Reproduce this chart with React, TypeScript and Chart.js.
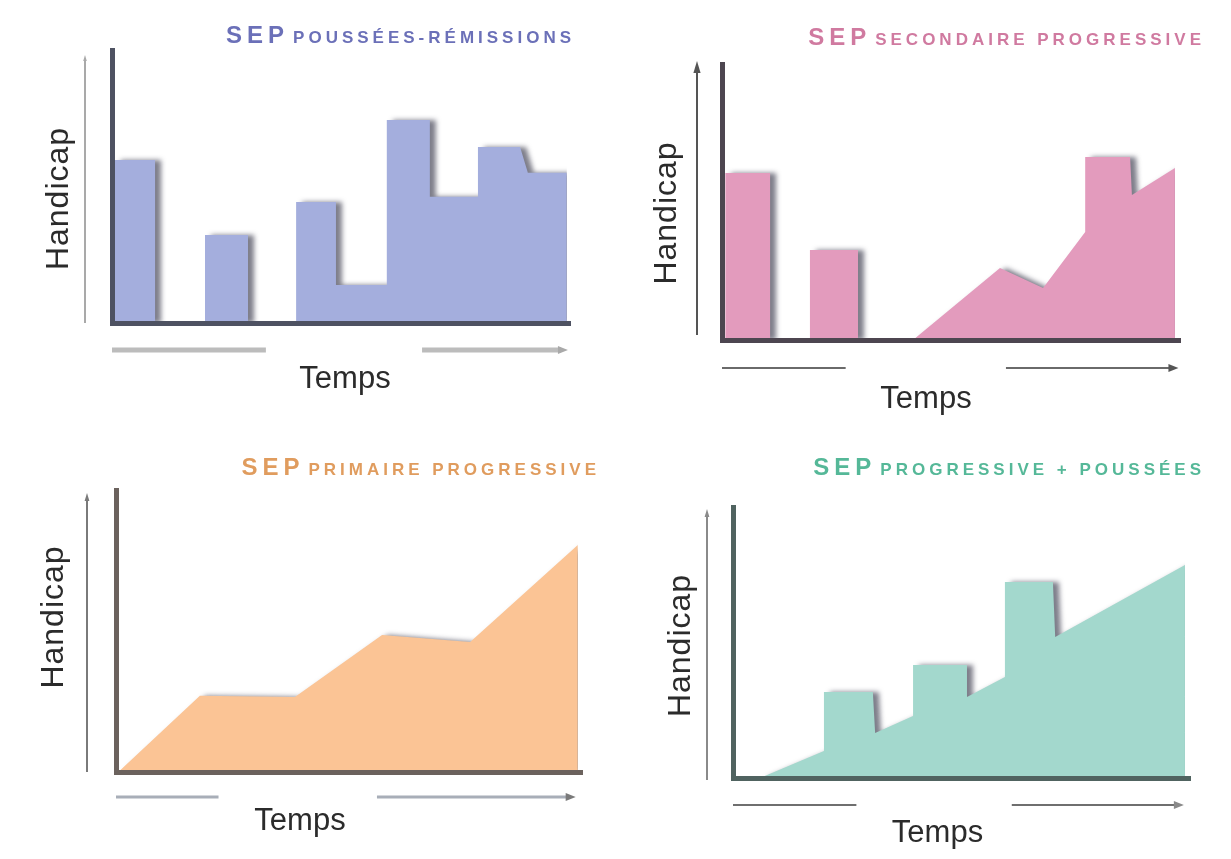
import React, { useEffect, useRef } from "react";
import { Chart, registerables } from "chart.js";

Chart.register(...registerables);

// ---- Data (time 0–100, handicap 0–100) ----
const titlesMain = ["SEP", "SEP", "SEP", "SEP"];
const titlesRest = [
  "POUSSÉES-RÉMISSIONS",
  "SECONDAIRE PROGRESSIVE",
  "PRIMAIRE PROGRESSIVE",
  "PROGRESSIVE + POUSSÉES",
];
const yLabel = "Handicap";
const xLabel = "Temps";

// SEP poussées-rémissions
const rrTime = [0.6, 0.6, 9.4, 9.4, 20.3, 20.3, 29.7, 29.7, 40.2, 40.2, 48.9, 48.9, 60.0, 60.0, 69.4, 69.4, 79.9, 79.9, 89.1, 90.8, 99.3, 99.3];
const rrHandicap = [0, 59.7, 59.7, 0, 0, 32.2, 32.2, 0, 0, 44.3, 44.3, 13.9, 13.9, 74.4, 74.4, 46.2, 46.2, 64.5, 64.5, 55.0, 55.0, 0];

// SEP secondaire progressive
const spTime = [0.7, 0.7, 10.5, 10.5, 19.2, 19.2, 29.7, 29.7, 41.7, 60.7, 70.1, 79.3, 79.3, 89.1, 89.5, 98.9, 98.9];
const spHandicap = [0, 60.5, 60.5, 0, 0, 32.6, 32.6, 0, 0, 26.1, 18.8, 39.1, 66.3, 66.3, 52.5, 62.3, 0];

// SEP primaire progressive
const ppTime = [0.5, 18.0, 38.4, 57.1, 76.0, 99.1, 99.1];
const ppHandicap = [0, 27.0, 26.6, 48.6, 46.1, 80.5, 0];

// SEP progressive + poussées
const prTime = [5.9, 19.9, 19.9, 30.6, 31.1, 39.4, 39.4, 51.2, 51.2, 59.5, 59.5, 70.0, 70.5, 98.9, 98.9];
const prHandicap = [0, 10.0, 31.7, 31.7, 16.6, 22.9, 41.7, 41.7, 29.9, 37.3, 72.3, 72.3, 52.0, 78.6, 0];

type Cfg = {
  left: number; top: number; w: number; h: number;
  pad: { left: number; top: number; right: number; bottom: number };
  xs: number[]; ys: number[];
  title: string; titleRest: string;
  fill: string; axis: string; titleColor: string;
  titleDx: number; titleDy: number;
  hx: number; hy: number; tx: number; ty: number;
  ax: number; aTop: number; aBottom: number; aColor: string; aWidth: number; aHead: number;
  bY: number; bL: [number, number]; bR: [number, number]; bColor: string; bWidth: number;
};

const FONT = '"Liberation Sans", Arial, sans-serif';

const panels: Cfg[] = [
  {
    left: 0, top: 0, w: 615, h: 430,
    pad: { left: 112, top: 50, right: 45, bottom: 107 },
    xs: rrTime, ys: rrHandicap, title: titlesMain[0], titleRest: titlesRest[0],
    fill: "#a4aedd", axis: "#4e5262", titleColor: "#6b70b8",
    titleDx: 5, titleDy: -7, hx: -44, hy: 12, tx: 4, ty: 65,
    ax: -27, aTop: 8, aBottom: 0, aColor: "#a9a9a9", aWidth: 2, aHead: 3,
    bY: 27, bL: [0, 0.336], bR: [0.677, 0.989], bColor: "#bcbcbc", bWidth: 5,
  },
  {
    left: 615, top: 0, w: 615, h: 430,
    pad: { left: 107, top: 64, right: 50, bottom: 90 },
    xs: spTime, ys: spHandicap, title: titlesMain[1], titleRest: titlesRest[1],
    fill: "#e39bbd", axis: "#4d4650", titleColor: "#d07aa0",
    titleDx: 25, titleDy: -19, hx: -46, hy: 11, tx: -25, ty: 68,
    ax: -25, aTop: 3, aBottom: -5, aColor: "#555555", aWidth: 2, aHead: 6,
    bY: 28, bL: [0, 0.27], bR: [0.62, 0.99], bColor: "#6a6a6a", bWidth: 2,
  },
  {
    left: 0, top: 430, w: 615, h: 429,
    pad: { left: 116, top: 60, right: 33, bottom: 87 },
    xs: ppTime, ys: ppHandicap, title: titlesMain[2], titleRest: titlesRest[2],
    fill: "#fbc495", axis: "#6b625d", titleColor: "#e09c5e",
    titleDx: 18, titleDy: -15, hx: -53, hy: -14, tx: -49, ty: 58,
    ax: -29, aTop: 7, aBottom: 0, aColor: "#7a7a7a", aWidth: 2, aHead: 4,
    bY: 25, bL: [0, 0.22], bR: [0.56, 0.98], bColor: "#a8aeb8", bWidth: 3,
  },
  {
    left: 615, top: 430, w: 615, h: 429,
    pad: { left: 118, top: 77, right: 40, bottom: 81 },
    xs: prTime, ys: prHandicap, title: titlesMain[3], titleRest: titlesRest[3],
    fill: "#a3d8cd", axis: "#506360", titleColor: "#55b898",
    titleDx: 15, titleDy: -32, hx: -43, hy: 3, tx: -24, ty: 64,
    ax: -26, aTop: 6, aBottom: 2, aColor: "#8a8a8a", aWidth: 2, aHead: 4,
    bY: 27, bL: [0, 0.27], bR: [0.61, 0.98], bColor: "#6f6f6f", bWidth: 2,
  },
];

function makeDeco(cfg: Cfg) {
  return {
    id: "deco",
    beforeDatasetsDraw(chart: any) {
      const ctx = chart.ctx;
      ctx.save();
      ctx.shadowColor = "rgba(40,40,60,0.6)";
      ctx.shadowOffsetX = 6;
      ctx.shadowOffsetY = 0;
      ctx.shadowBlur = 5;
    },
    afterDatasetsDraw(chart: any) {
      chart.ctx.restore();
    },
    afterDraw(chart: any) {
      const ctx = chart.ctx as CanvasRenderingContext2D;
      const a = chart.chartArea;
      const cx = (a.left + a.right) / 2;
      const cy = (a.top + a.bottom) / 2;
      const W = a.right - a.left;
      ctx.save();

      // Title: large "SEP" + smaller wide caps
      ctx.fillStyle = cfg.titleColor;
      ctx.textBaseline = "alphabetic";
      ctx.textAlign = "left";
      (ctx as any).letterSpacing = "4px";
      ctx.font = `bold 17px ${FONT}`;
      const restW = ctx.measureText(cfg.titleRest).width;
      (ctx as any).letterSpacing = "5px";
      ctx.font = `bold 24px ${FONT}`;
      const mainW = ctx.measureText(cfg.title).width;
      const gap = 4;
      const xEnd = a.right + cfg.titleDx;
      const by = a.top + cfg.titleDy;
      const start = xEnd - restW - gap - mainW;
      ctx.fillText(cfg.title, start, by);
      (ctx as any).letterSpacing = "4px";
      ctx.font = `bold 17px ${FONT}`;
      ctx.fillText(cfg.titleRest, start + mainW + gap, by);

      // Axis labels
      (ctx as any).letterSpacing = "0px";
      ctx.fillStyle = "#2b2b2b";
      ctx.font = `31px ${FONT}`;
      ctx.textAlign = "center";
      ctx.fillText(xLabel, cx + cfg.tx, a.bottom + cfg.ty);

      ctx.save();
      ctx.translate(a.left + cfg.hx, cy + cfg.hy);
      ctx.rotate(-Math.PI / 2);
      (ctx as any).letterSpacing = "1px";
      ctx.font = `32px ${FONT}`;
      ctx.fillText(yLabel, 0, 0);
      ctx.restore();

      // Vertical arrow
      const vx = a.left + cfg.ax;
      const vTop = a.top + cfg.aTop;
      ctx.strokeStyle = cfg.aColor;
      ctx.fillStyle = cfg.aColor;
      ctx.lineWidth = cfg.aWidth;
      ctx.beginPath();
      ctx.moveTo(vx, a.bottom + cfg.aBottom);
      ctx.lineTo(vx, vTop);
      ctx.stroke();
      ctx.beginPath();
      ctx.moveTo(vx, vTop - cfg.aHead);
      ctx.lineTo(vx - cfg.aHead * 0.6, vTop + cfg.aHead);
      ctx.lineTo(vx + cfg.aHead * 0.6, vTop + cfg.aHead);
      ctx.closePath();
      ctx.fill();

      // Bottom arrow (two segments)
      const yb = a.bottom + cfg.bY;
      ctx.strokeStyle = cfg.bColor;
      ctx.lineWidth = cfg.bWidth;
      ctx.beginPath();
      ctx.moveTo(a.left + cfg.bL[0] * W, yb);
      ctx.lineTo(a.left + cfg.bL[1] * W, yb);
      ctx.moveTo(a.left + cfg.bR[0] * W, yb);
      const xr = a.left + cfg.bR[1] * W;
      ctx.lineTo(xr - 4, yb);
      ctx.stroke();
      ctx.fillStyle = cfg.aColor;
      ctx.beginPath();
      ctx.moveTo(xr + 3, yb);
      ctx.lineTo(xr - 7, yb - 4);
      ctx.lineTo(xr - 7, yb + 4);
      ctx.closePath();
      ctx.fill();

      ctx.restore();
    },
  };
}

function Panel({ cfg }: { cfg: Cfg }) {
  const ref = useRef<HTMLCanvasElement>(null);
  useEffect(() => {
    const points = cfg.xs.map((x, i) => ({ x, y: cfg.ys[i] }));
    const axisOpts = (color: string) => ({
      type: "linear" as const,
      min: 0,
      max: 100,
      grid: { display: false, drawTicks: false },
      ticks: { display: false },
      border: { display: true, color, width: 5, z: 1 },
    });
    const chart = new Chart(ref.current as HTMLCanvasElement, {
      type: "line",
      data: {
        datasets: [
          {
            data: points,
            fill: "origin",
            backgroundColor: cfg.fill,
            borderWidth: 0,
            borderColor: "rgba(0,0,0,0)",
            pointRadius: 0,
            tension: 0,
          },
        ],
      },
      options: {
        responsive: false,
        animation: false,
        events: [],
        layout: { padding: cfg.pad },
        plugins: {
          legend: { display: false },
          tooltip: { enabled: false },
          title: { display: false },
        },
        scales: {
          x: axisOpts(cfg.axis) as any,
          y: axisOpts(cfg.axis) as any,
        },
      },
      plugins: [makeDeco(cfg)],
    });
    return () => chart.destroy();
  }, [cfg]);
  return (
    <canvas
      ref={ref}
      width={cfg.w}
      height={cfg.h}
      style={{ position: "absolute", left: cfg.left, top: cfg.top, width: cfg.w, height: cfg.h }}
    />
  );
}

export default function App() {
  return (
    <div style={{ position: "absolute", left: 0, top: 0, width: 1230, height: 859, background: "#ffffff", overflow: "hidden" }}>
      {panels.map((p, i) => (
        <Panel key={i} cfg={p} />
      ))}
    </div>
  );
}
